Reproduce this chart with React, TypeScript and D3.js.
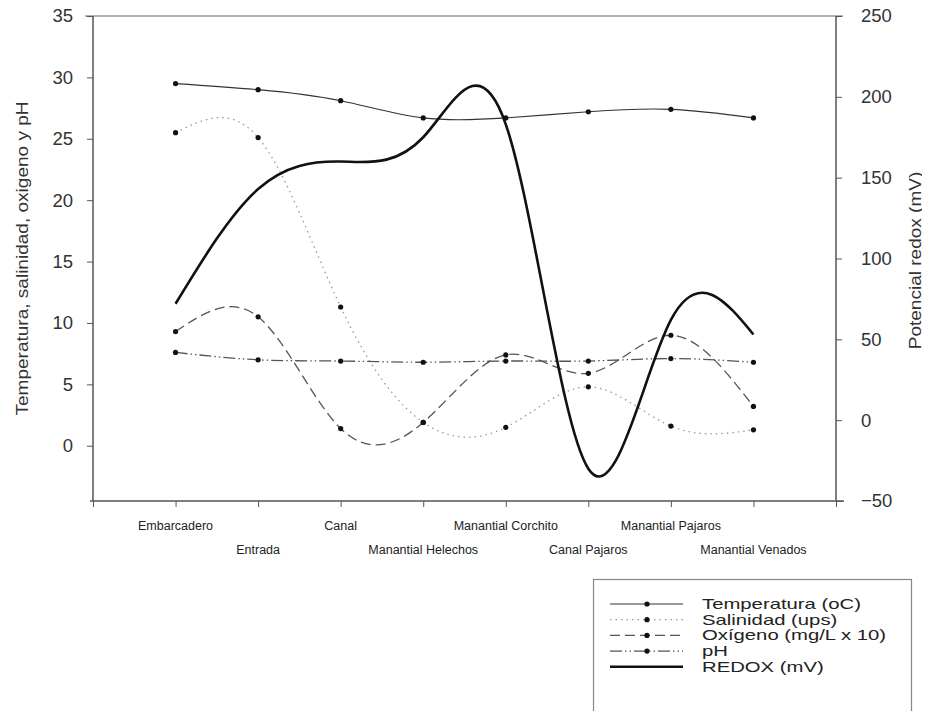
import { useEffect, useRef } from 'react';
import * as d3 from 'd3';

const sites = ['Embarcadero', 'Entrada', 'Canal', 'Manantial Helechos', 'Manantial Corchito', 'Canal Pajaros', 'Manantial Pajaros', 'Manantial Venados'];
const temperatura = [29.5, 29.0, 28.1, 26.7, 26.7, 27.2, 27.4, 26.7];
const salinidad = [25.5, 25.1, 11.3, 1.9, 1.5, 4.8, 1.6, 1.3];
const oxigeno = [9.3, 10.5, 1.4, 1.9, 7.4, 5.9, 9.0, 3.2];
const ph = [7.6, 7.0, 6.9, 6.8, 6.9, 6.9, 7.1, 6.8];
const redox = [72, 143, 160, 175, 183, -30, 62, 53];
const leftTicks = [0, 5, 10, 15, 20, 25, 30, 35];
const rightTicks = [-50, 0, 50, 100, 150, 200, 250];

const FONT = '"Liberation Sans", Arial, sans-serif';

const series = [
  { name: 'Temperatura (oC)', values: temperatura, axis: 'left', width: 1.2, color: '#333', dash: null, dots: true },
  { name: 'Salinidad (ups)', values: salinidad, axis: 'left', width: 1.3, color: '#999', dash: '1.5,4', dots: true },
  { name: 'Oxígeno (mg/L x 10)', values: oxigeno, axis: 'left', width: 1.3, color: '#555', dash: '10,5', dots: true },
  { name: 'pH', values: ph, axis: 'left', width: 1.3, color: '#555', dash: '12,3,1.5,3,1.5,3', dots: true },
  { name: 'REDOX (mV)', values: redox, axis: 'right', width: 2.6, color: '#111', dash: null, dots: false },
];

const App = () => {
  const ref = useRef(null);

  useEffect(() => {
    if (!ref.current) return;
    const W = 930, H = 719;
    const left = 93, right = 836, top = 16, bottom = 501;

    d3.select(ref.current).selectAll('svg').remove();
    const svg = d3.select(ref.current)
      .append('svg')
      .attr('width', W)
      .attr('height', H)
      .style('display', 'block')
      .style('font-family', FONT);

    const x = d3.scaleLinear().domain([0, sites.length + 1]).range([left, right]);
    const yL = d3.scaleLinear().domain([-4.5, 35]).range([bottom, top]);
    const yR = d3.scaleLinear().domain([-50, 250]).range([bottom, top]);

    const axisColor = '#555';

    // frame top (runs a little past both axes, like the original)
    svg.append('line')
      .attr('x1', left - 8).attr('x2', right + 7)
      .attr('y1', top).attr('y2', top)
      .attr('stroke', '#999').attr('stroke-width', 1.5);

    // left axis
    const gL = svg.append('g')
      .attr('transform', `translate(${left},0)`)
      .call(d3.axisLeft(yL).tickValues(leftTicks).tickSize(6).tickSizeOuter(0).tickPadding(14));
    gL.select('.domain').remove();
    gL.append('line').attr('x1', 0).attr('x2', 0).attr('y1', top).attr('y2', bottom)
      .attr('stroke', axisColor).attr('stroke-width', 1.5);
    gL.selectAll('.tick line').attr('stroke', axisColor);
    gL.selectAll('.tick text').attr('font-size', 18.5).attr('font-family', FONT).attr('fill', '#333');

    // right axis
    const gR = svg.append('g')
      .attr('transform', `translate(${right},0)`)
      .call(d3.axisRight(yR).tickValues(rightTicks).tickSize(6).tickSizeOuter(0).tickPadding(19));
    gR.select('.domain').remove();
    gR.append('line').attr('x1', 0).attr('x2', 0).attr('y1', top).attr('y2', bottom)
      .attr('stroke', axisColor).attr('stroke-width', 1.5);
    gR.selectAll('.tick line').attr('stroke', axisColor);
    gR.selectAll('.tick text').attr('font-size', 18.5).attr('font-family', FONT).attr('fill', '#333');

    // bottom axis
    const gB = svg.append('g')
      .attr('transform', `translate(0,${bottom})`)
      .call(d3.axisBottom(x).tickValues(d3.range(0, sites.length + 2)).tickSize(6).tickSizeOuter(0).tickFormat(() => ''));
    gB.select('.domain').remove();
    gB.append('line').attr('x1', left - 3).attr('x2', right + 8).attr('y1', 0).attr('y2', 0)
      .attr('stroke', axisColor).attr('stroke-width', 1.5);
    gB.selectAll('.tick line').attr('stroke', axisColor);

    // category labels, staggered in two rows
    svg.append('g')
      .selectAll('text')
      .data(sites)
      .join('text')
      .attr('x', (d, i) => x(i + 1))
      .attr('y', (d, i) => (i % 2 === 0 ? 530 : 554))
      .attr('text-anchor', 'middle')
      .attr('font-size', 12.5)
      .attr('fill', '#222')
      .text(d => d);

    // axis titles
    svg.append('text')
      .attr('transform', `translate(28,${(top + bottom) / 2}) rotate(-90) scale(1.12,1)`)
      .attr('text-anchor', 'middle')
      .attr('font-size', 17)
      .attr('fill', '#333')
      .text('Temperatura, salinidad, oxigeno y pH');

    svg.append('text')
      .attr('transform', `translate(921,${(top + bottom) / 2 + 2}) rotate(-90) scale(1.12,1)`)
      .attr('text-anchor', 'middle')
      .attr('font-size', 17)
      .attr('fill', '#333')
      .text('Potencial redox (mV)');

    // lines
    series.forEach(s => {
      const yS = s.axis === 'left' ? yL : yR;
      const line = d3.line<number>()
        .x((d, i) => x(i + 1))
        .y(d => yS(d))
        .curve(d3.curveNatural);
      svg.append('path')
        .datum(s.values)
        .attr('fill', 'none')
        .attr('stroke', s.color)
        .attr('stroke-width', s.width)
        .attr('stroke-dasharray', s.dash)
        .attr('d', line);
      if (s.dots) {
        svg.append('g')
          .selectAll('circle')
          .data(s.values)
          .join('circle')
          .attr('cx', (d, i) => x(i + 1))
          .attr('cy', d => yS(d))
          .attr('r', 2.6)
          .attr('fill', '#111');
      }
    });

    // legend
    const lg = svg.append('g');
    lg.append('rect')
      .attr('x', 593.5).attr('y', 579.5)
      .attr('width', 318).attr('height', 160)
      .attr('fill', 'white').attr('stroke', '#888').attr('stroke-width', 1.2);
    series.forEach((s, i) => {
      const yy = 604 + i * 15.7;
      lg.append('line')
        .attr('x1', 610).attr('x2', 683)
        .attr('y1', yy).attr('y2', yy)
        .attr('stroke', s.color)
        .attr('stroke-width', s.width)
        .attr('stroke-dasharray', s.dash);
      if (s.dots) {
        lg.append('circle').attr('cx', 647).attr('cy', yy).attr('r', 2.6).attr('fill', '#111');
      }
      lg.append('text')
        .attr('transform', `translate(702,${yy + 5}) scale(1.45,1)`)
        .attr('font-size', 14)
        .attr('fill', '#222')
        .text(s.name);
    });
  }, []);

  return <div ref={ref} style={{ margin: '-8px' }} />;
};

export default App;
